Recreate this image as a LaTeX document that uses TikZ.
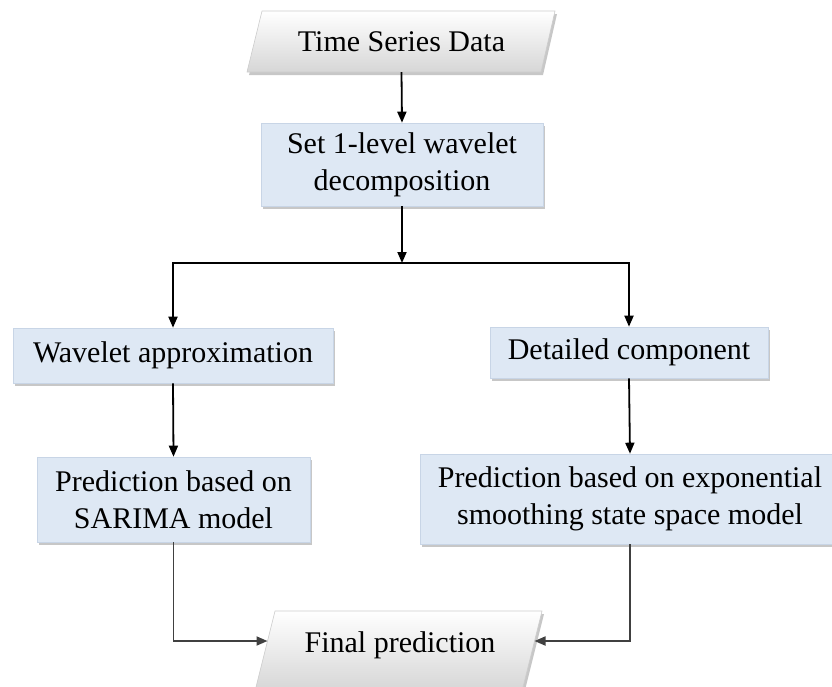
\documentclass[tikz,border=0pt]{standalone}
\usepackage{fontspec}
\setmainfont{Liberation Serif}
\usetikzlibrary{arrows.meta,shadows,calc}
\definecolor{boxfill}{HTML}{DEE8F4}
\definecolor{boxline}{HTML}{C8D5E6}
\begin{document}
\begin{tikzpicture}[x=1pt,y=-1pt,
  font=\fontsize{30}{37}\selectfont,
  shad/.style={drop shadow={shadow xshift=2pt, shadow yshift=-3pt, fill=black, opacity=0.22}},
  proc/.style={rectangle, fill=boxfill, draw=boxline, line width=0.6pt, align=center, inner sep=0pt, shad},
  io/.style={draw=gray!40, line width=0.6pt, top color=white, bottom color=gray!32, shad},
  lbl/.style={align=center, inner sep=0pt},
  arr/.style={-{Triangle[length=11pt,width=9pt]}, line width=1.8pt, draw=black},
  arr2/.style={-{Triangle[length=11pt,width=9pt]}, line width=1.8pt, draw=black!75}]
\useasboundingbox (0,0) rectangle (832,686);
% input / output parallelograms
\path[io] (262,11) -- (555,11) -- (541,72) -- (247,72) -- cycle;
\path[io] (275,611) -- (542,611) -- (522,691) -- (255,691) -- cycle;
\node[lbl, minimum width=280pt, minimum height=61pt] (tsd) at (401.5,41.5) {Time Series Data};
\node[lbl] (fp) at (400,645) {Final prediction};
% process boxes
\node[proc, minimum width=282pt, minimum height=83pt] (set) at (402,164.5) {Set 1-level wavelet\\decomposition};
\node[proc, minimum width=320pt, minimum height=55pt] (wa) at (173,355.5) {Wavelet approximation};
\node[proc, minimum width=278pt, minimum height=51pt] (dc) at (629,352.5) {Detailed component};
\node[proc, minimum width=273pt, minimum height=85pt] (sar) at (173.5,499.5) {Prediction based on\\SARIMA model};
\node[proc, minimum width=420pt, minimum height=90pt] (exps) at (630,499) {Prediction based on exponential\\smoothing state space model};
% connectors
\coordinate (junc) at (402,263);
\coordinate (fpL) at (267.5,641);
\coordinate (fpR) at (534.5,641);
\draw[arr] (tsd.south) -- (set.north);
\draw[arr] (set.south) -- (junc);
\draw[arr] (junc) -| (wa.north);
\draw[arr] (junc) -| (dc.north);
\draw[arr] (wa.south) -- (sar.north);
\draw[arr] (dc.south) -- (exps.north);
\draw[arr2] (sar.south) |- (fpL);
\draw[arr2] (exps.south) |- (fpR);
\end{tikzpicture}
\end{document}
